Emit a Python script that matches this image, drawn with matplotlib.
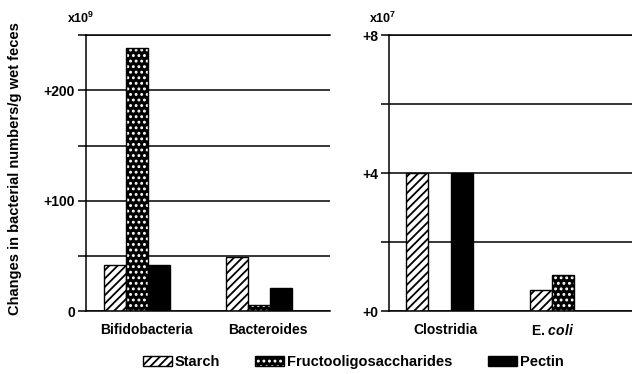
import matplotlib
matplotlib.use("Agg")
import matplotlib.pyplot as plt
import numpy as np
from matplotlib.patches import Patch
from matplotlib.transforms import ScaledTranslation, blended_transform_factory

# ---- data ----
series = ["Starch", "Fructooligosaccharides", "Pectin"]

left_categories = ["Bifidobacteria", "Bacteroides"]
left_starch = [42, 49]
left_fos = [238, 5.5]
left_pectin = [42, 21]
left_yticks = [0, 50, 100, 150, 200, 250]
left_yticklabels = ["0", "", "+100", "", "+200", ""]
left_scale = "x10$^9$"

right_categories = ["Clostridia", "E. $\\mathit{coli}$"]
right_starch = [4.0, 0.6]
right_fos = [0.0, 1.05]
right_pectin = [4.0, 0.0]
right_yticks = [0, 2, 4, 6, 8]
right_yticklabels = ["+0", "", "+4", "", "+8"]
right_scale = "x10$^7$"

ylabel = "Changes in bacterial numbers/g wet feces"

# ---- style ----
plt.rcParams["font.family"] = ["Liberation Sans", "DejaVu Sans"]
plt.rcParams["font.weight"] = "bold"
plt.rcParams["mathtext.fontset"] = "custom"
plt.rcParams["mathtext.rm"] = "Liberation Sans:bold"
plt.rcParams["mathtext.it"] = "Liberation Sans:italic:bold"
plt.rcParams["mathtext.bf"] = "Liberation Sans:bold"
plt.rcParams["hatch.linewidth"] = 1.3

fig = plt.figure(figsize=(6.32, 3.74), dpi=100)
H = 0.738
B = 0.168
ax1 = fig.add_axes([0.136, B, 0.386, H])
ax2 = fig.add_axes([0.6155, B, 0.3845, H])

w = 0.18
LW = 1.1


def draw(ax, cats, starch, fos, pectin, yticks, yticklabels, xlim,
         label_shift):
    x = np.arange(len(cats))
    ax.bar(x - w, starch, w, facecolor="white", edgecolor="black",
           hatch="////", linewidth=1.0, zorder=3)
    ax.bar(x, fos, w, color="black", edgecolor="white", hatch="...",
           linewidth=0, zorder=3)
    ax.bar(x, fos, w, fill=False, edgecolor="black", linewidth=1.0, zorder=4)
    ax.bar(x + w, pectin, w, color="black", edgecolor="black",
           linewidth=1.0, zorder=3)
    ax.set_xlim(*xlim)
    ax.set_ylim(yticks[0], yticks[-1])
    ax.set_yticks(yticks)
    ax.set_yticklabels(yticklabels, fontsize=10, fontweight="bold")
    ax.set_xticks([])
    base = blended_transform_factory(ax.transData, ax.transAxes)
    for xi, cat, dx in zip(x, cats, label_shift):
        tr = base + ScaledTranslation(dx / 100, -0.19, fig.dpi_scale_trans)
        ax.text(xi, 0, cat, transform=tr, ha="center", va="center",
                fontsize=10, fontweight="bold")
    ax.tick_params(axis="y", length=6, width=LW, pad=2, direction="out")
    ax.yaxis.grid(True, color="black", linewidth=LW, zorder=1)
    ax.set_axisbelow(True)
    ax.spines["right"].set_visible(False)
    for s in ["left", "bottom", "top"]:
        ax.spines[s].set_linewidth(LW)
        ax.spines[s].set_zorder(5)


draw(ax1, left_categories, left_starch, left_fos, left_pectin,
     left_yticks, left_yticklabels, (-0.418, 1.582), [9, 9])
draw(ax2, right_categories, right_starch, right_fos, right_pectin,
     right_yticks, right_yticklabels, (-0.409, 1.559), [6, -10])

fig.text(0.128, 0.952, left_scale, ha="center", va="center",
         fontsize=9, fontweight="bold")
fig.text(0.606, 0.952, right_scale, ha="center", va="center",
         fontsize=9, fontweight="bold")
fig.text(0.024, 0.55, ylabel, rotation=90, ha="center", va="center",
         fontsize=10.5, fontweight="bold")

h_starch = Patch(facecolor="white", edgecolor="black", hatch="////",
                 linewidth=1.0)
h_fos = (Patch(facecolor="black", edgecolor="white", hatch="...",
               linewidth=0),
         Patch(facecolor="none", edgecolor="black", linewidth=1.0))
h_pectin = Patch(facecolor="black", edgecolor="black", linewidth=1.0)
fig.legend([h_starch, h_fos, h_pectin], series, ncol=3, loc="center",
           bbox_to_anchor=(0.5585, 0.032), frameon=False,
           prop={"size": 10.5, "weight": "bold"}, handlelength=2.0,
           handleheight=0.6, handletextpad=0.2, columnspacing=2.4,
           borderpad=0, borderaxespad=0)

fig.savefig("out.png", dpi=100)
